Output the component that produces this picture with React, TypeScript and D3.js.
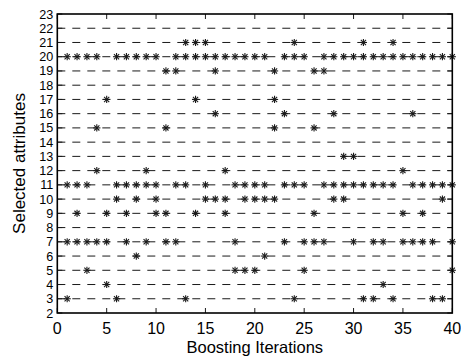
import React from "react";
import * as d3 from "d3";

// selected attribute -> boosting iterations where it was picked
const attributes = [3, 4, 5, 6, 7, 9, 10, 11, 12, 13, 15, 16, 17, 19, 20, 21];
const iterations = [
  [1, 6, 13, 24, 31, 32, 34, 38, 39],
  [5, 33],
  [3, 18, 19, 20, 25, 40],
  [8, 21],
  [1, 2, 3, 4, 5, 7, 9, 11, 12, 18, 23, 25, 26, 27, 30, 32, 33, 35, 36, 37, 38, 40],
  [2, 5, 7, 10, 11, 14, 17, 26, 35, 37],
  [6, 8, 10, 15, 16, 17, 19, 20, 21, 22, 28, 29, 39],
  [1, 2, 3, 6, 7, 8, 9, 10, 12, 13, 15, 18, 19, 20, 21, 23, 24, 25, 27, 28, 29, 30, 31, 32, 33, 34, 36, 37, 38, 39, 40],
  [4, 9, 17, 35],
  [29, 30],
  [4, 11, 22, 26],
  [16, 23, 28, 36],
  [5, 14, 22],
  [11, 12, 16, 22, 26, 27],
  [1, 2, 3, 4, 6, 7, 8, 9, 10, 12, 13, 14, 15, 16, 17, 18, 19, 20, 21, 23, 24, 25, 27, 28, 29, 30, 31, 32, 33, 34, 35, 36, 37, 38, 39, 40],
  [13, 14, 15, 24, 31, 34],
];
const gridRows = d3.range(3, 23); // dashed lines at 3..22
const xTicks = [0, 5, 10, 15, 20, 25, 30, 35, 40];
const yTicks = d3.range(2, 24);

const W = 461;
const H = 356;
const m = { left: 57.3, right: 452.3, top: 14, bottom: 313 };

export default function App() {
  const x = d3.scaleLinear().domain([0, 40]).range([m.left, m.right]);
  const y = d3.scaleLinear().domain([2, 23]).range([m.bottom, m.top]);
  const font = "'Liberation Sans', Arial, Helvetica, sans-serif";
  const ink = "#1a1a1a";
  const r = 3.6;
  const d = r * 0.72;

  const points: { a: number; it: number }[] = [];
  attributes.forEach((a, i) => iterations[i].forEach((it) => points.push({ a, it })));

  return (
    <svg width={W} height={H} style={{ position: "absolute", left: 0, top: 0, background: "#fff" }}>
      {gridRows.map((g) => (
        <line key={"g" + g} x1={x(0)} x2={x(40)} y1={y(g)} y2={y(g)} stroke={ink} strokeWidth={1} strokeDasharray="8,7" />
      ))}
      {points.map((p, i) => {
        const cx = x(p.it);
        const cy = y(p.a);
        return (
          <g key={"p" + i} stroke={ink} strokeWidth={1.1}>
            <line x1={cx - r} x2={cx + r} y1={cy} y2={cy} />
            <line x1={cx} x2={cx} y1={cy - r} y2={cy + r} />
            <line x1={cx - d} x2={cx + d} y1={cy - d} y2={cy + d} />
            <line x1={cx - d} x2={cx + d} y1={cy + d} y2={cy - d} />
          </g>
        );
      })}
      {/* ticks, mirrored on all sides, pointing inward */}
      {yTicks.map((t) => (
        <g key={"yt" + t} stroke={ink} strokeWidth={1}>
          <line x1={m.left} x2={m.left + 5} y1={y(t)} y2={y(t)} />
          <line x1={m.right} x2={m.right - 5} y1={y(t)} y2={y(t)} />
        </g>
      ))}
      {xTicks.map((t) => (
        <g key={"xt" + t} stroke={ink} strokeWidth={1}>
          <line x1={x(t)} x2={x(t)} y1={m.bottom} y2={m.bottom - 5} />
          <line x1={x(t)} x2={x(t)} y1={m.top} y2={m.top + 5} />
        </g>
      ))}
      <rect x={m.left} y={m.top} width={m.right - m.left} height={m.bottom - m.top} fill="none" stroke="#000" strokeWidth={1.6} />
      {yTicks.map((t) => (
        <text key={"yl" + t} x={m.left - 4} y={y(t)} dy="0.36em" textAnchor="end" fontFamily={font} fontSize={12.6} fill="#000">
          {t}
        </text>
      ))}
      {xTicks.map((t) => (
        <text key={"xl" + t} x={x(t)} y={334} textAnchor="middle" fontFamily={font} fontSize={16} fill="#000">
          {t}
        </text>
      ))}
      <text x={(m.left + m.right) / 2} y={353} textAnchor="middle" fontFamily={font} fontSize={16.5} fill="#000">
        Boosting Iterations
      </text>
      <text
        transform={`translate(25, ${(m.top + m.bottom) / 2}) rotate(-90)`}
        textAnchor="middle"
        fontFamily={font}
        fontSize={17}
        fill="#000"
      >
        Selected attributes
      </text>
    </svg>
  );
}
